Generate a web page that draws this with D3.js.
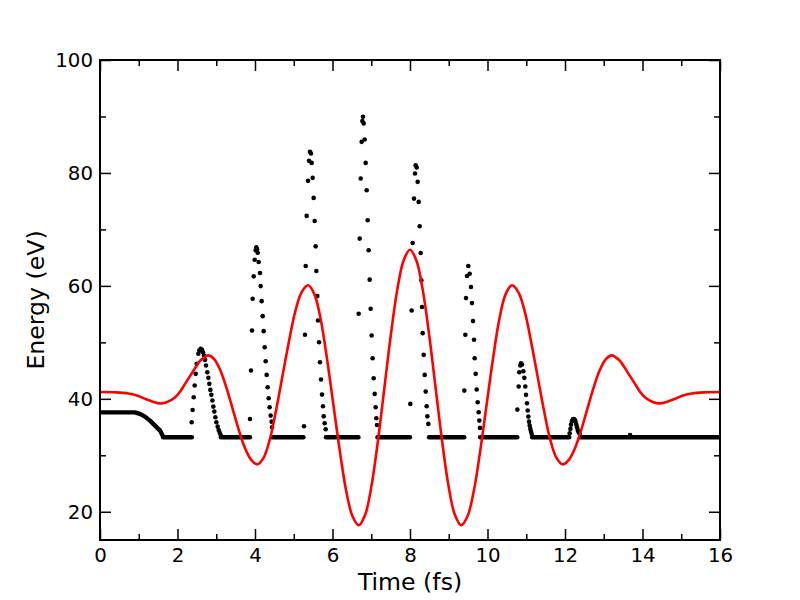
<!DOCTYPE html>
<html lang="en">
<head>
  <meta charset="UTF-8" />
  <title>Energy vs time</title>
  <script src="https://d3js.org/d3.v7.min.js"></script>
  <style>
    body { margin: 0; background: #fff; }
    svg { font-family: "DejaVu Sans", sans-serif; }
    .tick text { font-size: 19.8px; fill: #000; }
    .tick line { stroke: #000; stroke-width: 1.5; }
    .axis-label { font-size: 23.6px; fill: #000; text-anchor: middle; }
  </style>
</head>
<body>
  <svg width="800" height="600"></svg>

  <script>
    // red curve (field)
    const fieldT = [0, 0.4, 0.73, 0.99, 1.16, 1.38, 1.55, 1.72, 1.94, 2.07, 2.19, 2.33, 2.45, 2.58, 2.70, 2.80,
      2.95, 3.115, 3.27, 3.43, 3.59, 3.745, 3.90, 4.06, 4.224, 4.39, 4.55, 4.715, 4.88, 5.04, 5.205, 5.37,
      5.534, 5.70, 5.86, 6.025, 6.19, 6.35, 6.516, 6.68, 6.845, 7.01, 7.175, 7.34, 7.505, 7.67, 7.835, 8.0,
      8.165, 8.33, 8.495, 8.66, 8.825, 8.99, 9.155, 9.32, 9.484, 9.65, 9.81, 9.975, 10.14, 10.30, 10.466, 10.63,
      10.795, 10.96, 11.12, 11.285, 11.45, 11.61, 11.776, 11.94, 12.1, 12.255, 12.41, 12.57, 12.73, 12.885, 13.05, 13.20,
      13.30, 13.42, 13.55, 13.67, 13.81, 13.93, 14.06, 14.28, 14.45, 14.62, 14.84, 15.01, 15.27, 15.6, 16];
    const fieldE = [41.2, 41.15, 40.95, 40.5, 40.0, 39.45, 39.2, 39.4, 40.3, 41.3, 42.6, 44.1, 45.4, 46.7, 47.4, 47.7,
      47.0, 44.9, 41.8, 38.05, 34.3, 31.2, 29.2, 28.4, 29.6, 33.0, 38.2, 44.25, 50.3, 55.5, 58.9, 60.1,
      58.5, 53.9, 47.0, 38.85, 30.7, 23.8, 19.2, 17.6, 19.5, 24.75, 32.7, 42.0, 51.3, 59.25, 64.5, 66.4,
      64.5, 59.25, 51.3, 42.0, 32.7, 24.75, 19.5, 17.6, 19.2, 23.8, 30.7, 38.85, 47.0, 53.9, 58.5, 60.1,
      58.9, 55.5, 50.3, 44.25, 38.2, 33.0, 29.6, 28.4, 29.2, 31.2, 34.3, 38.05, 41.8, 44.9, 47.0, 47.7,
      47.4, 46.7, 45.4, 44.1, 42.6, 41.3, 40.3, 39.4, 39.2, 39.45, 40.0, 40.5, 40.95, 41.15, 41.2];

    // black trace: opening level and its decay
    const decayT = [0, 0.9, 1.03, 1.16, 1.29, 1.42, 1.55, 1.63];
    const decayE = [37.6, 37.6, 37.33, 36.85, 36.14, 35.25, 34.37, 33.3];

    // flat stretches of the black trace (dense dots)
    const flatLevel = 33.2;
    const flatStart = [1.63, 3.12, 4.44, 5.83, 7.16, 8.49, 9.81, 11.15, 12.39];
    const flatEnd   = [2.37, 3.87, 5.25, 6.67, 8.0, 9.40, 10.77, 12.11, 16.0];

    // black dots on the spikes
    const dotT = [
      2.366, 2.39, 2.418, 2.443, 2.469, 2.495, 2.538, 2.563, 2.598, 2.632, 2.658, 2.684, 2.71, 2.735, 2.77, 2.796,
      2.822, 2.848, 2.873, 2.9, 2.925, 2.95, 2.977, 3.003, 3.037, 3.063, 3.089, 3.114,
      3.871, 3.897, 3.923, 3.94, 3.966, 3.992, 4.017, 4.034, 4.052, 4.069, 4.095, 4.129, 4.146, 4.172, 4.198,
      4.224, 4.25, 4.275, 4.301, 4.327, 4.353, 4.378, 4.404, 4.43, 4.44,
      5.265, 5.29, 5.308, 5.333, 5.368, 5.394, 5.419, 5.445, 5.462, 5.488, 5.514, 5.54, 5.566, 5.583, 5.609,
      5.626, 5.652, 5.677, 5.703, 5.729, 5.755, 5.773, 5.798, 5.824,
      6.675, 6.701, 6.727, 6.753, 6.77, 6.787, 6.805, 6.83, 6.856, 6.882, 6.908, 6.933, 6.959, 6.985, 7.01,
      7.036, 7.062, 7.088, 7.114, 7.131, 7.148,
      8.009, 8.043, 8.069, 8.103, 8.129, 8.146, 8.172, 8.198, 8.224, 8.25, 8.276, 8.293, 8.31, 8.327, 8.353,
      8.379, 8.405, 8.43, 8.448, 8.473,
      9.402, 9.428, 9.445, 9.471, 9.505, 9.54, 9.574, 9.6, 9.626, 9.652, 9.669, 9.695, 9.721, 9.746, 9.772,
      9.789, 9.806,
      10.77, 10.805, 10.821, 10.847, 10.865, 10.89, 10.925, 10.95, 10.976, 10.994, 11.019, 11.037, 11.054,
      11.071, 11.089, 11.106, 11.123, 11.14,
      12.12, 12.14, 12.155, 12.18, 12.206, 12.232, 12.258, 12.275, 12.292, 12.31, 12.327, 12.353, 12.378,
      13.68];
    const dotE = [
      35.84, 38.03, 40.28, 42.35, 44.42, 46.2, 47.97, 48.56, 48.86, 48.68, 48.26, 47.67, 46.9, 45.9, 44.71, 43.71,
      42.65, 41.58, 40.7, 39.69, 38.62, 37.74, 36.73, 35.84, 35.08, 34.49, 34.0, 33.6,
      36.44, 45.01, 52.11, 57.73, 61.69, 64.64, 66.3, 66.83, 66.47, 65.88, 64.22, 62.27, 59.96, 57.3, 54.64,
      51.98, 49.14, 46.66, 44.24, 42.05, 40.1, 38.5, 37.03, 35.96, 34.95,
      35.14, 51.34, 63.52, 72.39, 78.6, 82.14, 83.74, 83.45, 81.78, 79.13, 75.58, 71.5, 67.0, 62.63, 58.19,
      53.88, 50.03, 46.48, 43.41, 40.75, 38.68, 36.9, 35.67, 34.6,
      55.06, 68.37, 79.01, 85.51, 89.18, 89.94, 88.77, 85.93, 81.78, 76.94, 71.62, 66.3, 61.1, 55.95, 51.22,
      47.19, 43.64, 40.87, 38.5, 36.55, 35.37,
      39.1, 55.65, 67.59, 75.46, 79.9, 81.37, 80.97, 78.42, 74.87, 70.56, 65.83, 60.98, 56.25, 51.63, 47.79,
      44.24, 41.28, 38.68, 36.9, 35.56,
      41.46, 51.34, 57.84, 61.74, 63.52, 62.16, 59.8, 56.95, 53.76, 50.45, 47.19, 44.42, 41.64, 39.39, 37.61,
      36.14, 34.85,
      38.09, 42.17, 44.71, 45.9, 46.3, 46.07, 44.89, 43.71, 42.17, 40.7, 39.21, 37.92, 36.85,
      35.96, 35.26, 34.67, 34.19, 33.78,
      33.9, 34.67, 35.43, 36.02, 36.37, 36.44, 36.26, 35.9, 35.43, 34.95, 34.49, 34.07, 33.78,
      33.6];

    const xMajor = [0, 2, 4, 6, 8, 10, 12, 14, 16];
    const xMinor = [1, 3, 5, 7, 9, 11, 13, 15];
    const yMajor = [20, 40, 60, 80, 100];
    const yMinor = [30, 50, 70, 90];

    const margin = { left: 100, right: 80, top: 60, bottom: 60 };
    const width = 800, height = 600;
    const iw = width - margin.left - margin.right;
    const ih = height - margin.top - margin.bottom;

    const x = d3.scaleLinear().domain([0, 16]).range([0, iw]);
    const y = d3.scaleLinear().domain([15, 100]).range([ih, 0]);

    const svg = d3.select("svg");
    const g = svg.append("g").attr("transform", `translate(${margin.left},${margin.top})`);

    g.append("clipPath").attr("id", "clip")
      .append("rect").attr("width", iw).attr("height", ih);
    const plot = g.append("g").attr("clip-path", "url(#clip)");

    // black trace
    const line = d3.line().x(d => x(d[0])).y(d => y(d[1]));
    plot.append("path")
      .attr("d", line(decayT.map((t, i) => [t, decayE[i]])))
      .attr("fill", "none").attr("stroke", "#000")
      .attr("stroke-width", 4.4).attr("stroke-linecap", "round").attr("stroke-linejoin", "round");

    plot.selectAll(".flat")
      .data(flatStart.map((s, i) => [s, flatEnd[i]]))
      .enter().append("line")
      .attr("x1", d => x(d[0])).attr("x2", d => x(d[1]))
      .attr("y1", y(flatLevel)).attr("y2", y(flatLevel))
      .attr("stroke", "#000").attr("stroke-width", 4.4).attr("stroke-linecap", "round");

    plot.selectAll(".dot")
      .data(dotT.map((t, i) => [t, dotE[i]]))
      .enter().append("circle")
      .attr("cx", d => x(d[0])).attr("cy", d => y(d[1]))
      .attr("r", 2.3).attr("fill", "#000");

    // red curve
    plot.append("path")
      .attr("d", d3.line().curve(d3.curveCatmullRom.alpha(0.5))
        .x(d => x(d[0])).y(d => y(d[1]))(fieldT.map((t, i) => [t, fieldE[i]])))
      .attr("fill", "none").attr("stroke", "#ff0000").attr("stroke-width", 2.6);

    // axes, ticks pointing inward on all four sides
    const major = 11, minor = 6;
    g.append("g").attr("transform", `translate(0,${ih})`)
      .call(d3.axisBottom(x).tickValues(xMajor).tickFormat(d3.format("d")).tickSize(-major).tickPadding(8));
    g.append("g").attr("transform", `translate(0,${ih})`)
      .call(d3.axisBottom(x).tickValues(xMinor).tickFormat("").tickSize(-minor));
    g.append("g")
      .call(d3.axisTop(x).tickValues(xMajor).tickFormat("").tickSize(-major));
    g.append("g")
      .call(d3.axisTop(x).tickValues(xMinor).tickFormat("").tickSize(-minor));
    g.append("g")
      .call(d3.axisLeft(y).tickValues(yMajor).tickFormat(d3.format("d")).tickSize(-major).tickPadding(7));
    g.append("g")
      .call(d3.axisLeft(y).tickValues(yMinor).tickFormat("").tickSize(-minor));
    g.append("g").attr("transform", `translate(${iw},0)`)
      .call(d3.axisRight(y).tickValues(yMajor).tickFormat("").tickSize(-major));
    g.append("g").attr("transform", `translate(${iw},0)`)
      .call(d3.axisRight(y).tickValues(yMinor).tickFormat("").tickSize(-minor));
    g.selectAll(".domain").remove();
    g.selectAll(".tick text").attr("font-family", "DejaVu Sans").attr("font-size", null);

    g.append("rect")
      .attr("width", iw).attr("height", ih)
      .attr("fill", "none").attr("stroke", "#000").attr("stroke-width", 2);

    svg.append("text").attr("class", "axis-label")
      .attr("x", margin.left + iw / 2).attr("y", 590)
      .text("Time (fs)");
    svg.append("text").attr("class", "axis-label")
      .attr("transform", `translate(44,${margin.top + ih / 2}) rotate(-90)`)
      .text("Energy (eV)");
  </script>
</body>
</html>
